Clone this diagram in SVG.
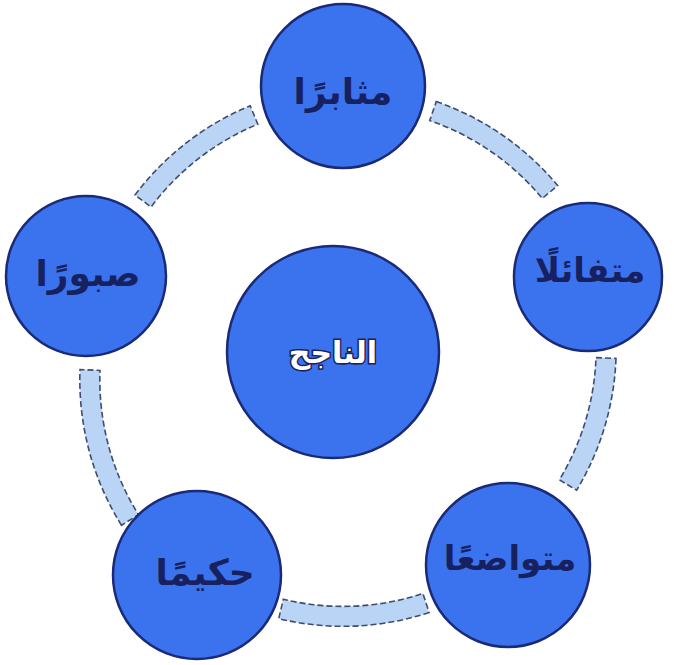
<svg xmlns="http://www.w3.org/2000/svg" width="674" height="665" viewBox="0 0 674 665">
<style>
.band{fill:#b9d4f4;stroke:#3e4c6e;stroke-width:1.6;stroke-dasharray:6 3;}
.node{fill:#3b73ee;stroke:#1a2a78;stroke-width:2.5;}
.lbl{font-family:"DejaVu Sans",sans-serif;font-weight:bold;fill:#172160;text-anchor:middle;}
.ctr{font-family:"DejaVu Sans",sans-serif;font-weight:bold;fill:#ffffff;stroke:#1a2458;stroke-width:3;paint-order:stroke;text-anchor:middle;}
</style>
<rect width="674" height="665" fill="#ffffff"/>
<g id="connectors">
<path class="band" d="M135,195 A275,275 0 0 1 250.2,105.8 L257.8,124.2 A255,255 0 0 0 151,207 Z"/>
<path class="band" d="M436.3,101.6 A275,275 0 0 1 557.7,185.6 L542.3,198.4 A255,255 0 0 0 429.7,120.5 Z"/>
<path class="band" d="M616,358.4 A275,275 0 0 1 576.6,490.2 L559.4,479.8 A255,255 0 0 0 596,357.6 Z"/>
<path class="band" d="M429.1,612.5 A275,275 0 0 1 278.7,618.7 L283.3,599.3 A255,255 0 0 0 422.9,593.5 Z"/>
<path class="band" d="M121.5,525.3 A275,275 0 0 1 80,369.6 L100,370.4 A255,255 0 0 0 138.5,514.7 Z"/>
</g>
<g id="node-center">
<circle class="node" cx="333" cy="352" r="106"/>
<text class="ctr" x="333" y="363" font-size="30">الناجح</text>
</g>
<g id="node-top">
<circle class="node" cx="343" cy="86" r="82"/>
<text class="lbl" x="343" y="104" font-size="36">مثابرًا</text>
</g>
<g id="node-right">
<circle class="node" cx="588" cy="277" r="74"/>
<text class="lbl" x="590" y="282" font-size="34">متفائلًا</text>
</g>
<g id="node-bottom-right">
<circle class="node" cx="508" cy="565" r="82"/>
<text class="lbl" x="510" y="570" font-size="34">متواضعًا</text>
</g>
<g id="node-bottom-left">
<circle class="node" cx="197" cy="575" r="84"/>
<text class="lbl" x="205" y="585" font-size="36">حكيمًا</text>
</g>
<g id="node-left">
<circle class="node" cx="86" cy="276" r="80"/>
<text class="lbl" x="88" y="286" font-size="36">صبورًا</text>
</g>
</svg>
